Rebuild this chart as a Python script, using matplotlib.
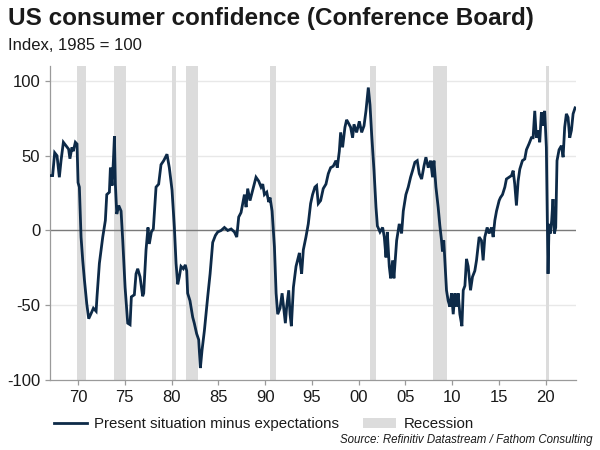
"""US consumer confidence (Conference Board): present situation minus expectations."""

import matplotlib
matplotlib.use('Agg')
import matplotlib.pyplot as plt
from matplotlib.lines import Line2D
from matplotlib.patches import Patch

plt.rcParams['font.family'] = ['Liberation Sans', 'DejaVu Sans']
plt.rcParams['axes.unicode_minus'] = False

# ---------- data ----------
years = [
    1967.00, 1967.28, 1967.50, 1967.75, 1968.00, 1968.18, 1968.43, 1968.71, 1968.99, 1969.13,
    1969.35, 1969.49, 1969.71, 1969.89, 1970.00, 1970.14, 1970.32, 1970.50, 1970.68, 1970.93,
    1971.14, 1971.39, 1971.64, 1971.93, 1972.03, 1972.28, 1972.64, 1972.92, 1973.07, 1973.35,
    1973.46, 1973.64, 1973.78, 1973.89, 1973.99, 1974.14, 1974.35, 1974.60, 1974.78, 1975.03,
    1975.31, 1975.56, 1975.70, 1976.02, 1976.20, 1976.38, 1976.63, 1976.91, 1977.02, 1977.27,
    1977.48, 1977.62, 1977.84, 1978.05, 1978.34, 1978.62, 1978.87, 1979.16, 1979.51, 1979.76,
    1980.05, 1980.30, 1980.48, 1980.66, 1980.83, 1981.01, 1981.26, 1981.47, 1981.62, 1981.72,
    1981.97, 1982.26, 1982.43, 1982.68, 1982.90, 1983.08, 1983.26, 1983.51, 1983.87, 1984.12,
    1984.40, 1984.69, 1984.94, 1985.30, 1985.65, 1986.01, 1986.37, 1986.72, 1986.97, 1987.18,
    1987.43, 1987.79, 1987.97, 1988.14, 1988.39, 1988.68, 1989.03, 1989.32, 1989.57, 1989.75,
    1989.93, 1990.18, 1990.39, 1990.53, 1990.75, 1991.00, 1991.18, 1991.35, 1991.60, 1991.82,
    1991.96, 1992.17, 1992.31, 1992.53, 1992.67, 1992.81, 1993.03, 1993.31, 1993.67, 1993.73,
    1993.91, 1994.09, 1994.37, 1994.62, 1994.87, 1995.08, 1995.33, 1995.51, 1995.69, 1995.94,
    1996.22, 1996.51, 1996.76, 1997.01, 1997.29, 1997.58, 1997.72, 1997.94, 1998.08, 1998.29,
    1998.54, 1998.72, 1998.90, 1999.15, 1999.36, 1999.51, 1999.79, 2000.08, 2000.33, 2000.58,
    2000.79, 2001.04, 2001.22, 2001.40, 2001.65, 2001.86, 2002.01, 2002.29, 2002.57, 2002.75,
    2002.93, 2003.07, 2003.28, 2003.43, 2003.64, 2003.78, 2004.07, 2004.35, 2004.60, 2004.78,
    2005.06, 2005.31, 2005.56, 2005.77, 2006.02, 2006.27, 2006.49, 2006.74, 2006.99, 2007.20,
    2007.45, 2007.70, 2007.91, 2008.06, 2008.27, 2008.51, 2008.69, 2008.87, 2008.97, 2009.11,
    2009.26, 2009.40, 2009.58, 2009.76, 2009.94, 2010.12, 2010.30, 2010.48, 2010.65, 2010.83,
    2011.05, 2011.19, 2011.37, 2011.54, 2011.72, 2011.97, 2012.18, 2012.43, 2012.61, 2012.89,
    2013.14, 2013.32, 2013.50, 2013.75, 2013.96, 2014.21, 2014.39, 2014.57, 2014.75, 2015.03,
    2015.17, 2015.39, 2015.64, 2015.81, 2016.10, 2016.35, 2016.53, 2016.70, 2016.88, 2017.06,
    2017.24, 2017.52, 2017.77, 2017.95, 2018.23, 2018.48, 2018.66, 2018.84, 2019.01, 2019.19,
    2019.37, 2019.55, 2019.72, 2019.90, 2020.08, 2020.26, 2020.37, 2020.51, 2020.65, 2020.79,
    2020.94, 2021.08, 2021.22, 2021.44, 2021.69, 2021.87, 2022.04, 2022.22, 2022.40, 2022.58,
    2022.76, 2022.94, 2023.15,
]
values = [
    36.7, 36.7, 52.0, 50.0, 35.6, 46.7, 59.0, 56.7, 54.4, 48.0,
    55.6, 53.0, 59.0, 57.8, 32.0, 29.0, -4.4, -20.0, -33.0, -49.0,
    -59.0, -55.6, -52.0, -54.0, -44.0, -22.0, -4.4, 6.7, 24.0, 25.6,
    42.0, 30.0, 46.7, 63.0, 31.0, 11.0, 16.7, 13.0, -6.7, -38.0,
    -62.0, -63.0, -44.4, -43.0, -29.0, -25.6, -31.0, -44.0, -42.0, -13.0,
    2.0, -9.0, -1.0, 1.0, 29.0, 31.0, 44.0, 46.7, 51.0, 42.0,
    27.0, 2.0, -22.0, -36.0, -31.0, -24.0, -25.6, -23.0, -27.0, -42.0,
    -47.0, -58.0, -62.0, -69.0, -73.0, -92.0, -80.0, -67.0, -44.0, -29.0,
    -8.0, -3.3, -1.0, 0.0, 2.0, 0.0, 1.0, -1.0, -4.4, 9.0,
    12.0, 24.0, 15.6, 28.0, 20.0, 27.0, 35.6, 33.0, 29.0, 31.0,
    24.0, 25.6, 19.0, 22.0, 13.0, -11.0, -42.0, -56.0, -52.0, -42.0,
    -50.0, -62.0, -51.0, -40.0, -56.0, -64.0, -38.0, -24.0, -15.0, -20.0,
    -29.0, -13.0, -4.4, 4.4, 18.0, 24.0, 29.0, 30.0, 18.0, 20.0,
    28.0, 31.0, 38.0, 42.0, 43.0, 46.7, 42.0, 53.0, 65.6, 55.6,
    69.0, 74.0, 72.0, 69.0, 62.0, 71.0, 65.6, 73.0, 65.6, 70.0,
    80.0, 95.6, 84.0, 64.0, 40.0, 15.6, 3.0, -1.0, 2.0, -4.4,
    -18.0, -1.0, -24.0, -32.0, -20.0, -32.0, -6.7, 4.4, -2.0, 13.0,
    24.0, 29.0, 35.6, 40.0, 45.6, 46.7, 38.0, 34.4, 43.0, 49.0,
    42.0, 46.7, 35.6, 46.7, 29.0, 15.6, 3.3, -6.7, -14.0, -6.7,
    -24.0, -40.0, -47.0, -51.0, -42.0, -56.0, -42.0, -51.0, -42.0, -56.0,
    -64.0, -40.0, -37.0, -19.0, -24.0, -40.0, -31.0, -27.0, -20.0, -4.4,
    -6.7, -20.0, -4.4, 2.0, -2.0, 2.0, -4.4, 6.7, 13.0, 20.0,
    22.0, 24.0, 29.0, 34.4, 35.6, 36.7, 40.0, 31.0, 16.7, 33.0,
    41.0, 46.7, 47.8, 54.0, 58.0, 62.0, 62.0, 80.0, 62.0, 67.0,
    59.0, 79.0, 70.0, 80.0, 55.6, -29.0, 4.4, -2.0, 6.7, 21.0,
    -2.0, 2.0, 46.7, 54.0, 56.7, 49.0, 69.0, 78.0, 75.6, 62.0,
    67.0, 78.0, 82.0,
]

# NBER recessions (start, end) in decimal years
rec_start = [1969.92, 1973.83, 1980.00, 1981.50, 1990.50, 2001.17, 2007.92, 2020.08]
rec_end = [1970.83, 1975.17, 1980.50, 1982.83, 1991.17, 2001.83, 2009.42, 2020.33]

xtick_years = [1970, 1975, 1980, 1985, 1990, 1995, 2000, 2005, 2010, 2015, 2020]
xtick_labels = ['70', '75', '80', '85', '90', '95', '00', '05', '10', '15', '20']
yticks = [-100, -50, 0, 50, 100]

# ---------- plot ----------
line_col = '#0d2a48'
rec_col = '#dcdcdc'
txt_col = '#1a1a1a'

fig = plt.figure(figsize=(6, 4.5), dpi=100)
ax = fig.add_axes([50 / 600, 1 - 380 / 450, 526 / 600, 314 / 450])

for s, e in zip(rec_start, rec_end):
    ax.axvspan(s, e, color=rec_col, lw=0, zorder=1)

for y in (-50, 50, 100):
    ax.axhline(y, color='#e8e8e8', lw=1.0, zorder=0.5)
ax.axhline(0, color='#7a7a7a', lw=1.0, zorder=2)

ax.plot(years, values, color=line_col, lw=2.0, zorder=3, solid_joinstyle='miter')

ax.set_xlim(1967.0, 2023.25)
ax.set_ylim(-100, 110)
ax.set_xticks(xtick_years)
ax.set_xticklabels(xtick_labels)
ax.set_yticks(yticks)
ax.set_yticklabels([str(v) for v in yticks])

for side in ('top', 'right'):
    ax.spines[side].set_visible(False)
for side in ('left', 'bottom'):
    ax.spines[side].set_color('#9a9a9a')
    ax.spines[side].set_linewidth(0.9)

ax.tick_params(axis='both', colors='#9a9a9a', labelcolor=txt_col, labelsize=12,
               length=3.6, width=0.9, pad=3.5)

fig.text(8 / 600, 1 - 19 / 450, 'US consumer confidence (Conference Board)',
         fontsize=17.5, fontweight='bold', color=txt_col, ha='left', va='center')
fig.text(8 / 600, 1 - 45 / 450, 'Index, 1985 = 100',
         fontsize=12, color=txt_col, ha='left', va='center')

handles = [Line2D([0], [0], color=line_col, lw=2.0),
           Patch(facecolor=rec_col, edgecolor='none')]
labels = ['Present situation minus expectations', 'Recession']
fig.legend(handles, labels, loc='center', bbox_to_anchor=(264 / 600, 1 - 424 / 450),
           ncol=2, frameon=False, fontsize=10.8, handlelength=2.2,
           handletextpad=0.5, columnspacing=1.6, labelcolor=txt_col)

fig.text(592 / 600, 1 - 440 / 450, 'Source: Refinitiv Datastream / Fathom Consulting',
         fontsize=8.3, style='italic', color=txt_col, ha='right', va='center')

fig.savefig('out.png', dpi=100)
